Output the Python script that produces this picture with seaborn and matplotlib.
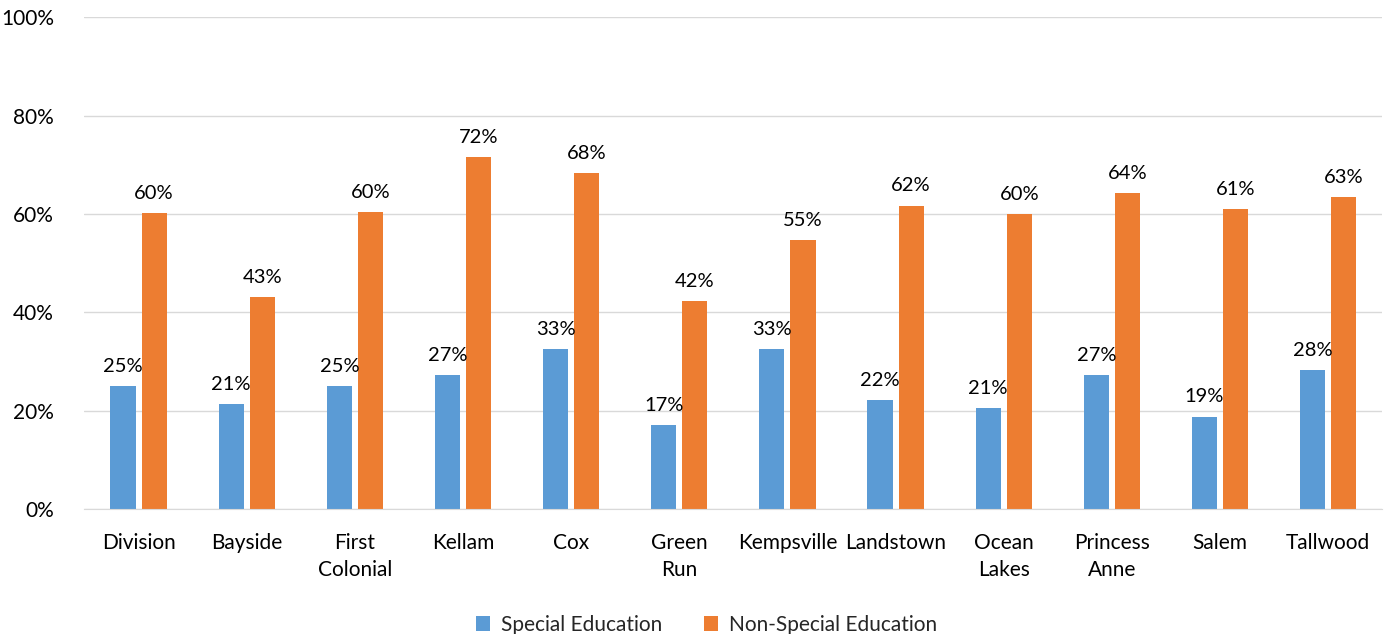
import numpy as np
import pandas as pd
import matplotlib
matplotlib.use("Agg")
import matplotlib.pyplot as plt
import seaborn as sns
from matplotlib.ticker import PercentFormatter

# --- data ---
schools = ["Division", "Bayside", "First\nColonial", "Kellam", "Cox", "Green\nRun",
           "Kempsville", "Landstown", "Ocean\nLakes", "Princess\nAnne", "Salem", "Tallwood"]
special_ed = [25.0, 21.4, 25.1, 27.3, 32.6, 17.0, 32.6, 22.2, 20.6, 27.3, 18.8, 28.3]
non_special_ed = [60.1, 43.1, 60.3, 71.5, 68.3, 42.2, 54.7, 61.7, 60.0, 64.2, 61.0, 63.4]
series = ["Special Education", "Non-Special Education"]
colors = ["#5B9BD5", "#ED7D31"]

df = pd.DataFrame({
    "school": schools * 2,
    "group": [series[0]] * len(schools) + [series[1]] * len(schools),
    "pct": special_ed + non_special_ed,
})

sns.set_style("white")
plt.rcParams["font.family"] = ["Lato", "DejaVu Sans"]

fig = plt.figure(figsize=(13.85, 6.34), dpi=100)
ax = fig.add_axes([0.061, 0.197, 0.937, 0.776])

sns.barplot(data=df, x="school", y="pct", hue="group", palette=colors,
            saturation=1, linewidth=0, width=0.574, gap=0.19, ax=ax, legend=True)

for cont in ax.containers:
    ax.bar_label(cont, labels=[f"{v:.0f}%" for v in cont.datavalues],
                 padding=8, fontsize=14.5, color="#000000")

ax.set_ylim(0, 100)
ax.set_xlim(-0.5, 11.5)
ax.set_yticks(np.arange(0, 101, 20))
ax.yaxis.set_major_formatter(PercentFormatter(decimals=0))
ax.grid(axis="y", color="#D9D9D9", linewidth=1)
ax.set_axisbelow(True)
for s in ["top", "right", "left"]:
    ax.spines[s].set_visible(False)
ax.spines["bottom"].set_color("#D9D9D9")
ax.tick_params(axis="both", length=0, labelsize=15, colors="#000000")
ax.tick_params(axis="x", pad=17)
ax.tick_params(axis="y", pad=22)
for t in ax.get_xticklabels():
    t.set_linespacing(1.45)
ax.set_xlabel("")
ax.set_ylabel("")

ax.legend(loc="center", bbox_to_anchor=(0.479, -0.235), ncol=2, frameon=False,
          fontsize=15, handlelength=0.7, handleheight=0.7, columnspacing=2.0,
          handletextpad=0.5)

fig.savefig("out.png", dpi=100)
